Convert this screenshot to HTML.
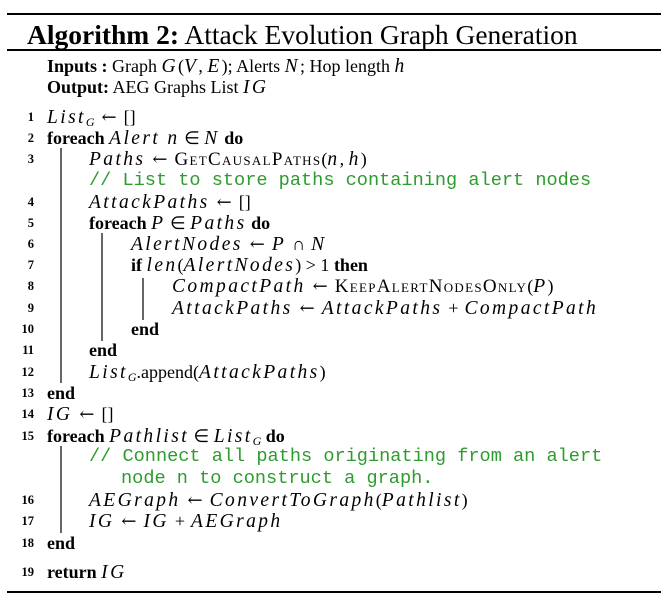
<!DOCTYPE html>
<html><head><meta charset="utf-8"><style>
body{margin:0;background:#fff;width:667px;height:601px;position:relative;overflow:hidden;font-family:"Liberation Serif",serif;color:#000}
.r{position:absolute;left:7px;width:654px;background:#000}
.l{position:absolute;white-space:nowrap;font-size:18px;line-height:20px}
.n{position:absolute;width:30px;text-align:right;left:4px;font-size:12.5px;font-weight:bold;line-height:20px}
i{letter-spacing:2.4px;font-size:19.5px}
.a{font-family:"DejaVu Serif",serif;font-size:18px;margin:0 7px}
.p{margin:0 6px}
.c{font-family:"Liberation Mono",monospace;font-size:18.6px;color:#2e9b2e}
.sc{font-variant:small-caps;letter-spacing:1.3px;font-size:19px}
.bar{position:absolute;width:1.5px;background:#666}
sub{font-size:12px;font-style:italic;vertical-align:-3px;line-height:0}
</style></head><body>
<div class="r" style="top:13px;height:2px"></div>
<div class="l" style="left:27px;top:20px;font-size:27.5px;line-height:30px"><b>Algorithm 2:</b> Attack Evolution Graph Generation</div>
<div class="r" style="top:49px;height:1.5px"></div>
<div class="r" style="top:591px;height:2px"></div>

<div class="l" style="left:47px;top:56px"><b>Inputs :</b> Graph <i>G</i>(<i>V</i>, <i>E</i>); Alerts <i>N</i>; Hop length <i>h</i></div>
<div class="l" style="left:47px;top:77px"><b>Output:</b> AEG Graphs List <i>IG</i></div>

<div class="n" style="top:107px">1</div><div class="l" style="left:47px;top:107px"><i>List</i><sub>G</sub><span class="a">←</span>[]</div>
<div class="n" style="top:128px">2</div><div class="l" style="left:47px;top:128px"><b>foreach</b> <i>Alert n</i> ∈ <i>N</i> <b>do</b></div>
<div class="n" style="top:149px">3</div><div class="l" style="left:89px;top:149px"><i>Paths</i><span class="a">←</span><span class="sc">GetCausalPaths</span>(<i>n</i>, <i>h</i>)</div>
<div class="l c" style="left:89px;top:171px">// List to store paths containing alert nodes</div>
<div class="n" style="top:192px">4</div><div class="l" style="left:89px;top:192px"><i>AttackPaths</i><span class="a">←</span>[]</div>
<div class="n" style="top:213px">5</div><div class="l" style="left:89px;top:213px"><b>foreach</b> <i>P</i> ∈ <i>Paths</i> <b>do</b></div>
<div class="n" style="top:234px">6</div><div class="l" style="left:131px;top:234px"><i>AlertNodes</i><span class="a">←</span><i>P</i><span class="p">∩</span><i>N</i></div>
<div class="n" style="top:255px">7</div><div class="l" style="left:131px;top:255px"><b>if</b> <i>len</i>(<i>AlertNodes</i>) &gt; 1 <b>then</b></div>
<div class="n" style="top:276px">8</div><div class="l" style="left:172px;top:276px"><i>CompactPath</i><span class="a">←</span><span class="sc">KeepAlertNodesOnly</span>(<i>P</i>)</div>
<div class="n" style="top:298px">9</div><div class="l" style="left:172px;top:298px"><i>AttackPaths</i><span class="a">←</span><i>AttackPaths</i><span class="p">+</span><i>CompactPath</i></div>
<div class="n" style="top:319px">10</div><div class="l" style="left:131px;top:319px"><b>end</b></div>
<div class="n" style="top:340px">11</div><div class="l" style="left:89px;top:340px"><b>end</b></div>
<div class="n" style="top:362px">12</div><div class="l" style="left:89px;top:362px"><i>List</i><sub>G</sub>.append(<i>AttackPaths</i>)</div>
<div class="n" style="top:383px">13</div><div class="l" style="left:47px;top:383px"><b>end</b></div>
<div class="n" style="top:404px">14</div><div class="l" style="left:47px;top:404px"><i>IG</i><span class="a">←</span>[]</div>
<div class="n" style="top:426px">15</div><div class="l" style="left:47px;top:426px"><b>foreach</b> <i>Pathlist</i> ∈ <i>List</i><sub>G</sub> <b>do</b></div>
<div class="l c" style="left:89px;top:447px">// Connect all paths originating from an alert</div>
<div class="l c" style="left:121px;top:469px">node n to construct a graph.</div>
<div class="n" style="top:490px">16</div><div class="l" style="left:89px;top:490px"><i>AEGraph</i><span class="a">←</span><i>ConvertToGraph</i>(<i>Pathlist</i>)</div>
<div class="n" style="top:511px">17</div><div class="l" style="left:89px;top:511px"><i>IG</i><span class="a">←</span><i>IG</i><span class="p">+</span><i>AEGraph</i></div>
<div class="n" style="top:533px">18</div><div class="l" style="left:47px;top:533px"><b>end</b></div>
<div class="n" style="top:562px">19</div><div class="l" style="left:47px;top:562px"><b>return</b> <i>IG</i></div>

<div class="bar" style="left:60px;top:148px;height:235px"></div>
<div class="bar" style="left:101px;top:233px;height:108px"></div>
<div class="bar" style="left:142px;top:278px;height:42px"></div>
<div class="bar" style="left:60px;top:446px;height:87px"></div>
</body></html>
